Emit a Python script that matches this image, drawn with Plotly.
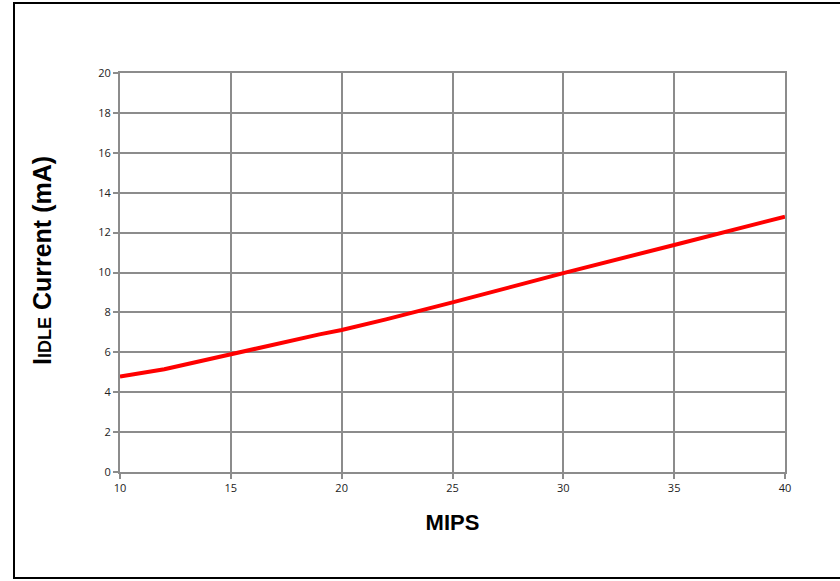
import plotly.graph_objects as go

mips = [10, 11, 12, 13, 14, 15, 16, 17, 18, 19, 20, 22, 25, 30, 35, 40]
idle_ma = [4.78, 4.95, 5.15, 5.4, 5.65, 5.93, 6.18, 6.42, 6.66, 6.9, 7.12, 7.65, 8.5, 9.97, 11.38, 12.8]

x_ticks = [10, 15, 20, 25, 30, 35, 40]
y_ticks = [0, 2, 4, 6, 8, 10, 12, 14, 16, 18, 20]

grid = "#8c8c8c"

fig = go.Figure()
fig.add_trace(go.Scatter(x=mips, y=idle_ma, mode="lines",
                         line=dict(color="#ff0000", width=4), showlegend=False))

fig.update_layout(
    width=840, height=581,
    margin=dict(l=120, r=55, t=73, b=109),
    paper_bgcolor="white", plot_bgcolor="white",
    font=dict(family="Open Sans, Liberation Sans, sans-serif", color="#222", size=11),
    xaxis=dict(range=[10, 40], tickvals=x_ticks, showgrid=True, gridcolor=grid, gridwidth=2,
               showline=True, linecolor=grid, linewidth=2, mirror=True,
               ticks="outside", ticklen=5, tickcolor=grid, tickwidth=1.5,
               zeroline=False,
               title=dict(text="<b>MIPS</b>", font=dict(family="Liberation Sans, Arial", size=22, color="black"),
                          standoff=20)),
    yaxis=dict(range=[0, 20], tickvals=y_ticks, showgrid=True, gridcolor=grid, gridwidth=2,
               showline=True, linecolor=grid, linewidth=2, mirror=True,
               ticks="outside", ticklen=5, tickcolor=grid, tickwidth=1.5,
               zeroline=False),
    annotations=[dict(text="<b>I<span style='font-size:18px'>IDLE</span> Current (mA)</b>",
                      xref="paper", yref="paper", x=(42 - 120) / 665, y=(472 - 261) / 399,
                      textangle=-90, showarrow=False, xanchor="center", yanchor="middle",
                      font=dict(family="Liberation Sans, Arial", size=25, color="black"))],
    shapes=[dict(type="rect", xref="paper", yref="paper",
                 x0=(14 - 120) / 665, x1=(845 - 120) / 665,
                 y0=(472 - 578) / 399, y1=(472 - 3) / 399,
                 line=dict(color="black", width=2), fillcolor="rgba(0,0,0,0)", layer="below")],
)

fig.write_html("out.html", config={"displayModeBar": False},
               post_script="document.body.style.margin='0';")
